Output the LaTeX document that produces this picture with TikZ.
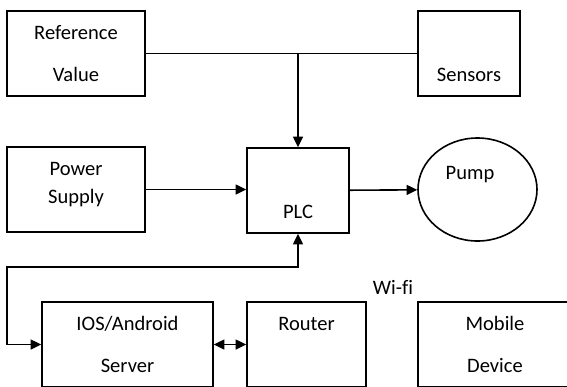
\documentclass[tikz,border=0pt]{standalone}
\usepackage{fontspec}
\setmainfont{Carlito}
\usetikzlibrary{arrows.meta,shapes.geometric}

\begin{document}
\begin{tikzpicture}[x=0.75pt,y=-0.75pt,line width=1.2pt,
  >={Triangle[length=8pt,width=7.5pt]},
  every node/.style={font=\fontsize{15.4pt}{31.5pt}\selectfont, align=center, inner sep=0pt},
  box/.style={draw, rectangle, minimum height=63.75pt}]
  \useasboundingbox (0,0) rectangle (567,386);
  \clip (0,0) rectangle (567,386);
  % top row
  \node[box, minimum width=103.5pt] (ref) at (76,53.5) {Reference\\Value};
  \node[box, minimum width=76.5pt] (sens) at (469,53.5) {\phantom{S}\\Sensors};
  % middle row
  \node[box, minimum width=103.5pt] (pow) at (76,189.5) {Power\\[-10.5pt]Supply\\[-21.75pt]\phantom{S}};
  \node[box, minimum width=76.5pt] (plc) at (298,190.5) {\phantom{S}\\PLC};
  \node[draw, ellipse, minimum width=89.25pt, minimum height=77.25pt] (pump) at (477.5,189.5) {Pump\hspace*{11.25pt}\\[-6.75pt]\phantom{S}};
  % bottom row
  \node[box, minimum width=128.25pt] (ios) at (127.5,344.5) {IOS/Android\\Server};
  \node[box, minimum width=89.25pt] (rtr) at (306.5,344.5) {Router\\\phantom{S}};
  \node[box, minimum width=115.5pt] (mob) at (495,344.5) {Mobile\\Device};
  \node (wifi) at (393,287) {Wi-f\kern0pt i};
  \coordinate (j) at (plc.north |- ref.east);
  \coordinate (fb) at (7,267);
  \draw (ref) -- (sens);
  \path[->] (j) edge (plc)
    (pow) edge (pow -| plc.west)
    (plc) edge (pump);
  \draw[<->] (plc.south) |- (fb) |- (ios.west);
  \draw[<->] (ios) -- (rtr);
\end{tikzpicture}
\end{document}
